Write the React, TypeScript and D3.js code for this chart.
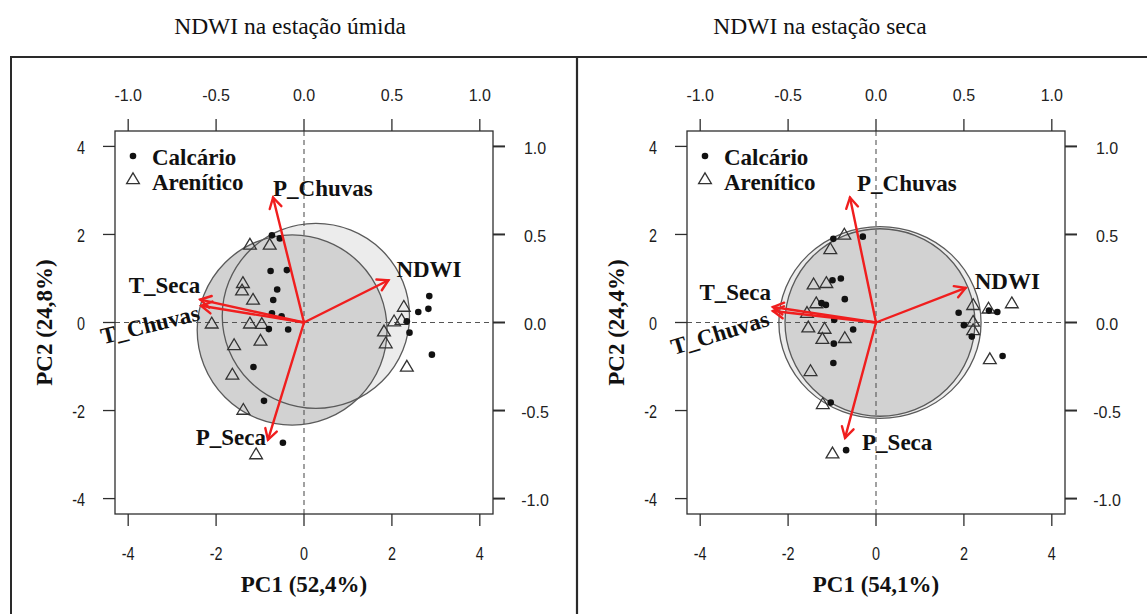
import React from "react";
import * as d3 from "d3";

// Axis ticks: PC scores (bottom/left) and loadings (top/right)
const pcTicks = [-4, -2, 0, 2, 4];
const loadingTicks = [-1, -0.5, 0, 0.5, 1];

const variables = ["P_Chuvas", "NDWI", "T_Seca", "T_Chuvas", "P_Seca"];
const groupNames = ["Calcário", "Arenítico"];

// Wet season scores
const wetCalcario: [number, number][] = [
  [-0.73, 1.98], [-0.55, 1.91], [-0.76, 1.17], [-0.39, 1.19], [-0.61, 0.75],
  [-0.7, 0.51], [-0.73, 0.21], [-0.51, 0.14], [-0.8, -0.15], [-0.36, -0.16],
  [-1.15, -1.01], [-0.91, -1.78], [-0.48, -2.73], [2.85, 0.6], [2.6, 0.24],
  [2.83, 0.31], [2.34, 0.03], [2.4, -0.23], [2.91, -0.73],
];
const wetArenitico: [number, number][] = [
  [-1.23, 1.77], [-0.78, 1.77], [-1.39, 0.9], [-1.41, 0.73], [-1.16, 0.52],
  [-2.1, -0.02], [-1.23, -0.02], [-0.96, -0.03], [-1.59, -0.51], [-0.99, -0.41],
  [-1.63, -1.18], [-1.38, -1.98], [-1.09, -2.99], [2.27, 0.36], [2.05, 0.03],
  [2.22, 0.06], [1.82, -0.2], [1.86, -0.47], [2.34, -1.0],
];
// Wet season loadings, same order as `variables`
const wetLoadings: [number, number][] = [
  [-0.176, 0.71], [0.48, 0.24], [-0.59, 0.13], [-0.585, 0.095], [-0.205, -0.666],
];
// Wet season group circles: [cx, cy, rx, ry]
const wetCircles: [number, number, number, number][] = [
  [0.27, 0.15, 2.13, 2.1],
  [-0.27, -0.17, 2.16, 2.16],
];

// Dry season scores
const dryCalcario: [number, number][] = [
  [-0.97, 1.9], [-0.3, 1.95], [-0.99, 0.96], [-0.8, 1.0], [-0.71, 0.53],
  [-1.24, 0.44], [-1.14, 0.4], [-0.95, 0.06], [-0.52, -0.16], [-0.96, -0.48],
  [-0.97, -0.92], [-1.03, -1.82], [-0.68, -2.9], [1.88, 0.22], [2.0, -0.06],
  [2.57, 0.27], [2.76, 0.24], [2.88, -0.76], [2.18, -0.32],
];
const dryArenitico: [number, number][] = [
  [-0.72, 2.0], [-1.04, 1.67], [-1.42, 0.87], [-1.13, 0.9], [-1.36, 0.44],
  [-1.57, 0.22], [-1.54, -0.11], [-1.17, -0.14], [-1.22, -0.37], [-0.71, -0.35],
  [-1.49, -1.1], [-1.21, -1.85], [-0.99, -2.97], [2.21, 0.4], [2.56, 0.32],
  [3.09, 0.44], [2.21, 0.02], [2.21, -0.17], [2.59, -0.83],
];
const dryLoadings: [number, number][] = [
  [-0.148, 0.71], [0.51, 0.196], [-0.586, 0.088], [-0.586, 0.065], [-0.176, -0.655],
];
const dryCircles: [number, number, number, number][] = [
  [0.09, 0.0, 2.3, 2.18],
  [0.09, 0.0, 2.16, 2.13],
];

type LabelPos = { dx: number; dy: number; anchor: string; rotate: number };

const wetLabelPos: LabelPos[] = [
  { dx: 0, dy: -9, anchor: "start", rotate: 0 },
  { dx: 8, dy: -11, anchor: "start", rotate: 0 },
  { dx: 0, dy: -14, anchor: "end", rotate: 0 },
  { dx: -51, dy: 19, anchor: "middle", rotate: -14 },
  { dx: -2, dy: -2, anchor: "end", rotate: 0 },
];
const dryLabelPos: LabelPos[] = [
  { dx: 7, dy: -14, anchor: "start", rotate: 0 },
  { dx: 9, dy: -6, anchor: "start", rotate: 0 },
  { dx: -2, dy: -15, anchor: "end", rotate: 0 },
  { dx: -53, dy: 22, anchor: "middle", rotate: -17 },
  { dx: 17, dy: 5, anchor: "start", rotate: 0 },
];

const SERIF = "'Liberation Serif', 'Times New Roman', serif";
const SANS = "'Liberation Sans', Arial, sans-serif";
const INK = "#2e2e2e";
const RED = "#f01e1e";

const fmtLoad = (v: number) => v.toFixed(1);

function triPath(cx: number, cy: number) {
  return `M${cx},${cy - 6.2}L${cx + 6.4},${cy + 4.6}L${cx - 6.4},${cy + 4.6}Z`;
}

// Narrow tick label used on the score axes
function NarrowLabel(props: { x: number; y: number; anchor: string; text: string }) {
  const k = 0.8;
  return (
    <text
      x={props.x / k}
      y={props.y}
      transform={`scale(${k},1)`}
      textAnchor={props.anchor}
      dominantBaseline="central"
      fontFamily={SANS}
      fontSize={18}
      fill="#1a1a1a"
    >
      {props.text}
    </text>
  );
}

type PanelProps = {
  ox: number;
  titleX: number;
  title: string;
  xTitle: string;
  yTitle: string;
  calcario: [number, number][];
  arenitico: [number, number][];
  loadings: [number, number][];
  circles: [number, number, number, number][];
  labelPos: LabelPos[];
};

function Panel(p: PanelProps) {
  const left = 115 + p.ox;
  const right = 493 + p.ox;
  const top = 131;
  const bottom = 514;
  const x = d3.scaleLinear().domain([-4.3, 4.3]).range([left, right]);
  const y = d3.scaleLinear().domain([-4.35, 4.35]).range([bottom, top]);
  const xl = d3.scaleLinear().domain([-1.075, 1.075]).range([left, right]);
  const yl = d3.scaleLinear().domain([-1.0875, 1.0875]).range([bottom, top]);
  const fills = ["#ececec", "#d2d2d2"];
  const tick = 12;

  return (
    <g>
      <text x={p.titleX} y={34} textAnchor="middle" fontFamily={SERIF} fontSize={23.5} fill="#111">
        {p.title}
      </text>

      {/* group circles: fills first, outlines after */}
      {p.circles.map((c, i) => (
        <ellipse key={"f" + i} cx={x(c[0])} cy={y(c[1])} rx={x(c[2]) - x(0)} ry={y(0) - y(c[3])} fill={fills[i]} />
      ))}
      {p.circles.map((c, i) => (
        <ellipse key={"s" + i} cx={x(c[0])} cy={y(c[1])} rx={x(c[2]) - x(0)} ry={y(0) - y(c[3])} fill="none" stroke="#5a5a5a" strokeWidth={1.3} />
      ))}

      {/* zero reference lines */}
      <line x1={x(0)} x2={x(0)} y1={top} y2={bottom} stroke="#555" strokeDasharray="5,4" strokeWidth={1.1} />
      <line x1={left} x2={right} y1={y(0)} y2={y(0)} stroke="#555" strokeDasharray="5,4" strokeWidth={1.1} />

      {/* scores */}
      {p.arenitico.map((d, i) => (
        <path key={"a" + i} d={triPath(x(d[0]), y(d[1]))} fill="none" stroke="#333" strokeWidth={1.3} />
      ))}
      {p.calcario.map((d, i) => (
        <circle key={"c" + i} cx={x(d[0])} cy={y(d[1])} r={3.3} fill="#111" />
      ))}

      {/* loading arrows */}
      {p.loadings.map((l, i) => {
        const x0 = xl(0), y0 = yl(0);
        const x1 = xl(l[0]), y1 = yl(l[1]);
        const ang = Math.atan2(y1 - y0, x1 - x0);
        const len = 12, spread = Math.PI / 6;
        const hx1 = x1 - len * Math.cos(ang - spread);
        const hy1 = y1 - len * Math.sin(ang - spread);
        const hx2 = x1 - len * Math.cos(ang + spread);
        const hy2 = y1 - len * Math.sin(ang + spread);
        return (
          <g key={"v" + i} stroke={RED} strokeWidth={2.4} fill="none" strokeLinecap="round">
            <line x1={x0} y1={y0} x2={x1} y2={y1} />
            <polyline points={`${hx1},${hy1} ${x1},${y1} ${hx2},${hy2}`} />
          </g>
        );
      })}
      {p.loadings.map((l, i) => {
        const lp = p.labelPos[i];
        const tx = xl(l[0]) + lp.dx;
        const ty = yl(l[1]) + lp.dy;
        return (
          <text
            key={"t" + i}
            x={tx}
            y={ty}
            textAnchor={lp.anchor}
            dominantBaseline="central"
            transform={lp.rotate ? `rotate(${lp.rotate},${tx},${ty})` : undefined}
            fontFamily={SERIF}
            fontWeight="bold"
            fontSize={23}
            fill="#111"
          >
            {variables[i]}
          </text>
        );
      })}

      {/* legend */}
      <circle cx={left + 18} cy={156} r={3.3} fill="#111" />
      <text x={left + 37} y={165} fontFamily={SERIF} fontWeight="bold" fontSize={23} fill="#111">
        {groupNames[0]}
      </text>
      <path d={triPath(left + 18, 179)} fill="none" stroke="#333" strokeWidth={1.3} />
      <text x={left + 37} y={190} fontFamily={SERIF} fontWeight="bold" fontSize={23} fill="#111">
        {groupNames[1]}
      </text>

      {/* plot box */}
      <rect x={left} y={top} width={right - left} height={bottom - top} fill="none" stroke={INK} strokeWidth={1.3} />

      {/* bottom axis */}
      {pcTicks.map((t) => (
        <g key={"b" + t}>
          <line x1={x(t)} x2={x(t)} y1={bottom} y2={bottom + tick} stroke={INK} strokeWidth={1.3} />
          <NarrowLabel x={x(t)} y={553} anchor="middle" text={String(t)} />
        </g>
      ))}
      {/* left axis */}
      {pcTicks.map((t) => (
        <g key={"l" + t}>
          <line x1={left - tick} x2={left} y1={y(t)} y2={y(t)} stroke={INK} strokeWidth={1.3} />
          <NarrowLabel x={left - 30} y={y(t) + 1} anchor="end" text={String(t)} />
        </g>
      ))}
      {/* top axis (loadings) */}
      {loadingTicks.map((t) => (
        <g key={"tp" + t}>
          <line x1={xl(t)} x2={xl(t)} y1={top - tick} y2={top} stroke={INK} strokeWidth={1.3} />
          <text x={xl(t)} y={95} textAnchor="middle" dominantBaseline="central" fontFamily={SANS} fontSize={16} fill="#222">
            {fmtLoad(t)}
          </text>
        </g>
      ))}
      {/* right axis (loadings) */}
      {loadingTicks.map((t) => (
        <g key={"r" + t}>
          <line x1={right} x2={right + tick} y1={yl(t)} y2={yl(t)} stroke={INK} strokeWidth={2} />
          <text x={right + 42} y={yl(t) + 2} textAnchor="middle" dominantBaseline="central" fontFamily={SANS} fontSize={16} fill="#222">
            {fmtLoad(t)}
          </text>
        </g>
      ))}

      {/* axis titles */}
      <text x={x(0)} y={592} textAnchor="middle" fontFamily={SERIF} fontWeight="bold" fontSize={23} fill="#111">
        {p.xTitle}
      </text>
      <text
        x={0}
        y={0}
        transform={`translate(${left - 63},${y(0)}) rotate(-90)`}
        textAnchor="middle"
        fontFamily={SERIF}
        fontWeight="bold"
        fontSize={23}
        fill="#111"
      >
        {p.yTitle}
      </text>
    </g>
  );
}

export default function App() {
  return (
    <svg
      width={1147}
      height={614}
      viewBox="0 0 1147 614"
      style={{ position: "absolute", left: 0, top: 0, background: "#fff" }}
    >
      <rect x={0} y={0} width={1147} height={614} fill="#fff" />
      {/* panel frames */}
      <path d="M11,614V57H1147" fill="none" stroke="#2a2a2a" strokeWidth={2} />
      <line x1={577} x2={577} y1={57} y2={614} stroke="#2a2a2a" strokeWidth={2.2} />
      <Panel
        ox={0}
        titleX={290}
        title="NDWI na estação úmida"
        xTitle="PC1 (52,4%)"
        yTitle="PC2 (24,8%)"
        calcario={wetCalcario}
        arenitico={wetArenitico}
        loadings={wetLoadings}
        circles={wetCircles}
        labelPos={wetLabelPos}
      />
      <Panel
        ox={572}
        titleX={820}
        title="NDWI na estação seca"
        xTitle="PC1 (54,1%)"
        yTitle="PC2 (24,4%)"
        calcario={dryCalcario}
        arenitico={dryArenitico}
        loadings={dryLoadings}
        circles={dryCircles}
        labelPos={dryLabelPos}
      />
    </svg>
  );
}
